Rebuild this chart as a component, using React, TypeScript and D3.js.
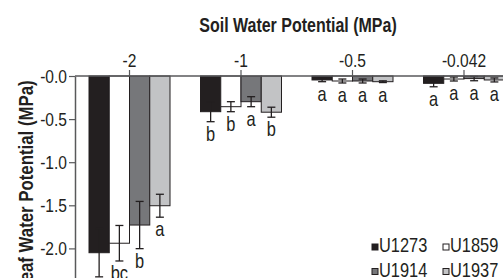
import { useEffect, useRef } from 'react'
import * as d3 from 'd3'

// soil water potential treatments (MPa)
const groups = ['-2', '-1', '-0.5', '-0.042']
const series = ['U1273', 'U1859', 'U1914', 'U1937']

// leaf water potential means (MPa), one array per line
const u1273 = [-2.05, -0.414, -0.046, -0.085]
const u1859 = [-1.94, -0.356, -0.058, -0.035]
const u1914 = [-1.729, -0.298, -0.058, -0.03]
const u1937 = [-1.505, -0.42, -0.066, -0.046]

// standard errors
const u1273Err = [0.28, 0.116, 0.02, 0.04]
const u1859Err = [0.206, 0.058, 0.023, 0.023]
const u1914Err = [0.274, 0.058, 0.023, 0.025]
const u1937Err = [0.133, 0.058, 0.01, 0.023]

// significance letters (first one is cut off in the source)
const u1273Sig = ['', 'b', 'a', 'a']
const u1859Sig = ['bc', 'b', 'a', 'a']
const u1914Sig = ['b', 'a', 'a', 'a']
const u1937Sig = ['a', 'b', 'a', 'a']

const yTicks = [0, -0.5, -1, -1.5, -2]

const WIDTH = 503
const HEIGHT = 278
const FONT = "'Liberation Sans', Arial, sans-serif"
const SX = 0.82 // squeeze to fake a condensed face
const INK = '#231f20'
const AXIS = '#58595b'
const COLORS = ['#231f20', '#ffffff', '#76777a', '#c2c3c5']

const App = () => {
  const ref = useRef<SVGSVGElement>(null)

  useEffect(() => {
    const svg = d3.select(ref.current)
    svg.selectAll('*').remove()

    const means = [u1273, u1859, u1914, u1937]
    const errs = [u1273Err, u1859Err, u1914Err, u1937Err]
    const sigs = [u1273Sig, u1859Sig, u1914Sig, u1937Sig]

    const left = 75
    const top = 76

    const x0 = d3.scaleBand().domain(groups).range([left, 518.5]).paddingInner(0.2735).paddingOuter(0.1256)
    const x1 = d3.scaleBand().domain(series).range([0, x0.bandwidth()])
    const y = d3.scaleLinear().domain([0, -2.5]).range([top, top + 2.5 * 86.2])

    const rows = groups.flatMap((g, gi) =>
      series.map((s, si) => ({
        g,
        s,
        si,
        value: means[si][gi],
        err: errs[si][gi],
        sig: sigs[si][gi],
      }))
    )

    // bars
    svg
      .append('g')
      .selectAll('rect')
      .data(rows)
      .join('rect')
      .attr('x', (d) => x0(d.g)! + x1(d.s)!)
      .attr('y', y(0))
      .attr('width', x1.bandwidth())
      .attr('height', (d) => y(d.value) - y(0))
      .attr('fill', (d) => COLORS[d.si])
      .attr('stroke', INK)
      .attr('stroke-width', 1)

    // error bars
    const eb = svg.append('g').attr('stroke', INK).attr('stroke-width', 1.3)
    rows.forEach((d) => {
      const cx = x0(d.g)! + x1(d.s)! + x1.bandwidth() / 2
      const y1 = y(d.value + d.err)
      const y2 = y(d.value - d.err)
      eb.append('line').attr('x1', cx).attr('x2', cx).attr('y1', Math.max(y1, top)).attr('y2', y2)
      if (y1 > top) eb.append('line').attr('x1', cx - 4).attr('x2', cx + 4).attr('y1', y1).attr('y2', y1)
      eb.append('line').attr('x1', cx - 4).attr('x2', cx + 4).attr('y1', y2).attr('y2', y2)
    })

    // letters
    svg
      .append('g')
      .attr('font-family', FONT)
      .attr('font-size', 20)
      .attr('fill', INK)
      .attr('text-anchor', 'middle')
      .selectAll('text')
      .data(rows.filter((d) => d.sig))
      .join('text')
      .attr('transform', `scale(${SX},1)`)
      .attr('x', (d) => (x0(d.g)! + x1(d.s)! + x1.bandwidth() / 2) / SX)
      .attr('y', (d) => y(d.value - d.err) + 19)
      .text((d) => d.sig)

    // top axis
    const xAxis = svg
      .append('g')
      .attr('transform', `translate(0,${top})`)
      .call(d3.axisTop(x0).tickSize(6).tickPadding(3).tickSizeOuter(0))
    xAxis.select('.domain').attr('stroke', AXIS).attr('stroke-width', 1.5).attr('d', `M${left},0H${WIDTH}`)
    xAxis.selectAll('.tick line').attr('stroke', AXIS).attr('stroke-width', 1.2)
    xAxis
      .selectAll('.tick text')
      .attr('font-family', FONT)
      .attr('font-size', 19)
      .attr('fill', INK)
      .attr('transform', `scale(${SX},1)`)

    // left axis
    const yAxis = svg
      .append('g')
      .attr('transform', `translate(${left},0)`)
      .call(
        d3
          .axisLeft(y)
          .tickValues(yTicks)
          .tickSize(6)
          .tickPadding(2)
          .tickSizeOuter(0)
          .tickFormat((v) => '-' + Math.abs(v as number).toFixed(1))
      )
    yAxis.select('.domain').attr('stroke', AXIS).attr('stroke-width', 1.5)
    yAxis.selectAll('.tick line').attr('stroke', AXIS).attr('stroke-width', 1.2)
    yAxis
      .selectAll('.tick text')
      .attr('font-family', FONT)
      .attr('font-size', 19)
      .attr('fill', INK)
      .attr('x', -8 / SX)
      .attr('transform', `scale(${SX},1)`)

    // titles
    svg
      .append('text')
      .attr('transform', `translate(298,32) scale(${SX},1)`)
      .attr('text-anchor', 'middle')
      .attr('font-family', FONT)
      .attr('font-weight', 'bold')
      .attr('font-size', 19.5)
      .attr('fill', INK)
      .text('Soil Water Potential (MPa)')
    svg
      .append('text')
      .attr('transform', `translate(32.5,186) rotate(-90) scale(${SX},1)`)
      .attr('text-anchor', 'middle')
      .attr('font-family', FONT)
      .attr('font-weight', 'bold')
      .attr('font-size', 20.5)
      .attr('fill', INK)
      .text('Leaf Water Potential (MPa)')

    // legend, two columns
    const legend = svg.append('g').attr('font-family', FONT).attr('font-size', 20).attr('fill', INK)
    series.forEach((s, i) => {
      const lx = i % 2 === 0 ? 372 : 443
      const ly = i < 2 ? 252 : 276.5
      legend
        .append('rect')
        .attr('x', lx)
        .attr('y', ly - 8)
        .attr('width', 6)
        .attr('height', 6)
        .attr('fill', COLORS[i])
        .attr('stroke', INK)
        .attr('stroke-width', 1)
      legend
        .append('text')
        .attr('transform', `translate(${lx + 7},${ly}) scale(${SX},1)`)
        .text(s)
    })
  }, [])

  return (
    <svg
      ref={ref}
      width={WIDTH}
      height={HEIGHT}
      style={{ position: 'absolute', left: 0, top: 0, background: '#fff' }}
    />
  )
}

export default App
